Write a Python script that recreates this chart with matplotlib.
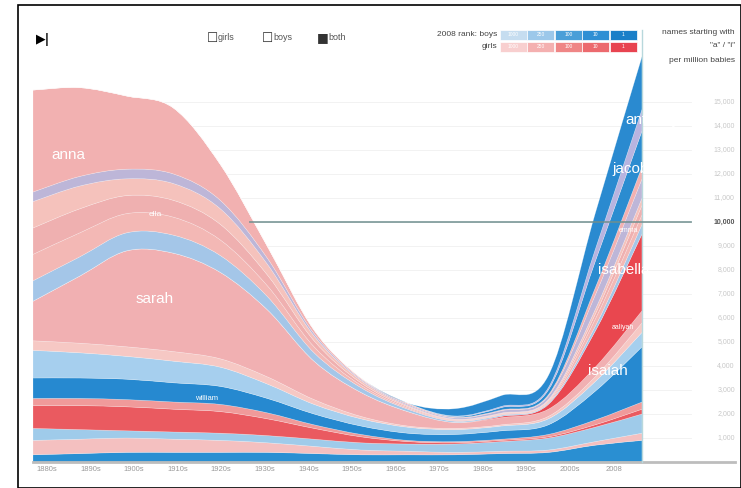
import matplotlib.pyplot as plt
import numpy as np
from matplotlib.path import Path
from matplotlib.patches import PathPatch, Rectangle

plt.rcParams['font.family'] = ['Liberation Sans', 'DejaVu Sans']

# dekady na osi x
decades = ['1880s', '1890s', '1900s', '1910s', '1920s', '1930s', '1940s',
           '1950s', '1960s', '1970s', '1980s', '1990s', '2000s', '2008']

# warstwy od dolu do gory, wartosci: na milion urodzen
b1 =       [300, 350, 400, 400, 400, 400, 350, 300, 300, 300, 350, 400, 700, 900]
g1 =       [600, 600, 600, 550, 500, 400, 300, 200, 150, 100, 100, 100, 150, 300]
b2 =       [500, 400, 300, 300, 300, 300, 300, 300, 300, 350, 400, 500, 600, 800]
g2 =       [950, 1000, 1000, 950, 900, 700, 450, 250, 100, 50, 50, 50, 100, 200]
g3 =       [300, 300, 300, 300, 300, 250, 150, 100, 50, 50, 50, 100, 200, 300]
isaiah =   [850, 850, 850, 800, 750, 600, 450, 350, 300, 300, 350, 400, 1200, 2300]
b3 =       [1150, 1050, 950, 900, 800, 600, 400, 300, 250, 200, 200, 250, 400, 600]
g4 =       [400, 400, 400, 400, 350, 300, 200, 100, 50, 50, 50, 100, 200, 400]
sarah =    [1650, 2800, 4000, 4100, 3600, 2800, 1600, 1000, 600, 250, 300, 300, 400, 500]
isabella = [0, 0, 0, 0, 0, 0, 0, 0, 0, 0, 50, 200, 1500, 3200]
b4 =       [850, 800, 750, 750, 700, 550, 350, 200, 100, 50, 50, 50, 200, 400]
g5 =       [1100, 1000, 800, 750, 650, 450, 250, 100, 50, 30, 30, 50, 300, 400]
g6 =       [1100, 1000, 750, 700, 650, 450, 250, 100, 50, 30, 30, 50, 200, 400]
g7 =       [1100, 950, 700, 700, 650, 450, 200, 100, 50, 30, 30, 50, 200, 300]
b5 =       [400, 400, 400, 400, 350, 250, 100, 50, 50, 50, 100, 150, 600, 800]
anna =     [4250, 3700, 3050, 2750, 1500, 500, 150, 50, 50, 30, 30, 50, 300, 500]
jacob =    [0, 0, 0, 0, 0, 0, 0, 0, 0, 30, 100, 200, 1100, 1500]
b6 =       [0, 0, 0, 0, 0, 0, 0, 0, 0, 20, 50, 100, 500, 900]
anthony =  [0, 0, 0, 0, 0, 0, 0, 0, 0, 300, 450, 500, 1500, 2200]

layers = [b1, g1, b2, g2, g3, isaiah, b3, g4, sarah, isabella,
          b4, g5, g6, g7, b5, anna, jacob, b6, anthony]
colors = ['#2a8fd2', '#f4c0c0', '#9fcbea', '#ea5a60', '#f09a9a', '#2689d0',
          '#a6cfee', '#f6c8c4', '#f1b0b2', '#e9474f', '#a4c6e8', '#f3b8b5',
          '#efb0b0', '#f5c2bc', '#bdb6d8', '#f2b1b1', '#2b8cd0', '#b8b4e0',
          '#2a8ad0']

y_ticks = list(range(1000, 16000, 1000))

boys_ramp = ['#c6ddf0', '#9cc8ea', '#4a9fd8', '#2e8fd4', '#1a7fc8']
girls_ramp = ['#f8cfcf', '#f4b0b0', '#ef8686', '#ec6a6e', '#e84450']
ramp_labels = ['1000', '250', '100', '10', '1']

W, H = 741, 488
fig = plt.figure(figsize=(W / 100, H / 100), dpi=100)
ax = fig.add_axes([33 / W, 26 / H, 702 / W, 408 / H])
ax.set_xlim(0, 702 / 46.85)
ax.set_ylim(0, 17000)
ax.axis('off')


def smooth(xs, ys):
    # Catmull-Rom -> krzywe Beziera
    pts = list(zip(xs, ys))
    verts = []
    n = len(pts)
    for i in range(n - 1):
        p0 = pts[max(i - 1, 0)]
        p1 = pts[i]
        p2 = pts[i + 1]
        p3 = pts[min(i + 2, n - 1)]
        c1 = (p1[0] + (p2[0] - p0[0]) / 6, p1[1] + (p2[1] - p0[1]) / 6)
        c2 = (p2[0] - (p3[0] - p1[0]) / 6, p2[1] - (p3[1] - p1[1]) / 6)
        verts += [c1, c2, p2]
    return verts


x = np.arange(len(decades))
bottom = np.zeros(len(decades))

# siatka
for t in y_ticks:
    ax.plot([0, 14.05], [t, t], color='#f0f0f0', lw=0.6, zorder=0)

for vals, col in zip(layers, colors):
    top = bottom + np.array(vals, dtype=float)
    up = smooth(x, top)
    lo = smooth(x[::-1], bottom[::-1])
    verts = [(x[0], top[0])] + up + [(x[-1], bottom[-1])] + lo + [(x[0], top[0])]
    codes = ([Path.MOVETO] + [Path.CURVE4] * len(up) + [Path.LINETO]
             + [Path.CURVE4] * len(lo) + [Path.CLOSEPOLY])
    ax.add_patch(PathPatch(Path(verts, codes), facecolor=col,
                           edgecolor=(1, 1, 1, 0.35), lw=0.4, zorder=2))
    bottom = top

# linia bazowa i pionowa kreska na koncu danych
ax.plot([0, 14.98], [0, 0], color='#bdbdbd', lw=2, zorder=3, clip_on=False)
ax.plot([13, 13], [0, 18000], color='#b8d8dc', lw=1, zorder=3, clip_on=False)

# linia 10,000
ax.plot([4.63, 14.05], [10000, 10000], color='#6f8f8f', lw=1.3, alpha=0.85, zorder=4)

# etykiety osi y po prawej
for t in y_ticks:
    bold = t == 10000
    ax.text(14.98, t, f'{t:,}', ha='right', va='center', fontsize=5,
            color='#555555' if bold else '#c8c8c8',
            fontweight='bold' if bold else 'normal')

# etykiety dekad
for i, d in enumerate(decades):
    ax.text(0.3 + 0.93 * i, -170, d, ha='center', va='top', fontsize=5.5,
            color='#9a9a9a')

# imiona na warstwach
clip = Rectangle((0, 0), 13, 17000, transform=ax.transData, visible=False)
ax.add_patch(clip)
names = [('anna', 0.75, 12800, 11, 'center'), ('sarah', 2.6, 6800, 11, 'center'),
         ('ella', 2.6, 10300, 6, 'center'), ('william', 3.7, 2650, 5.5, 'center'),
         ('isabella', 12.06, 8000, 11, 'left'), ('isaiah', 11.85, 3800, 11, 'left'),
         ('jacob', 12.36, 12200, 11, 'left'), ('anthony', 12.64, 14250, 11, 'left'),
         ('emma', 12.5, 9650, 5, 'left'), ('aaliyah', 12.35, 5600, 5, 'left')]
for name, nx, ny, fs, ha in names:
    t = ax.text(nx, ny, name, ha=ha, va='center', fontsize=fs, color='white',
                zorder=5)
    t.set_clip_path(clip)


def fx(px):
    return px / W


def fy(py):
    return 1 - py / H


# ramka
fig.add_artist(Rectangle((fx(18), fy(488)), fx(741) - fx(18), fy(5) - fy(488),
                         fill=False, edgecolor='black', lw=1.2,
                         transform=fig.transFigure))

# przycisk i pola wyboru
fig.text(fx(36), fy(40), '▶|', fontsize=9, fontweight='bold', va='center',
         family=['DejaVu Sans'])
for lbl, px, mark in [('girls', 207, '☐'), ('boys', 262, '☐'), ('both', 317, '■')]:
    fig.text(fx(px), fy(38), mark, fontsize=9, va='center', color='#333333',
             family=['DejaVu Sans'])
    fig.text(fx(px + 11), fy(38), lbl, fontsize=6.5, va='center', color='#555555')

# legenda rang
fig.text(fx(497), fy(35), '2008 rank: boys', ha='right', va='center',
         fontsize=6, color='#444444')
fig.text(fx(497), fy(47), 'girls', ha='right', va='center', fontsize=6,
         color='#444444')
for k in range(5):
    for row, ramp in [(30, boys_ramp), (42, girls_ramp)]:
        fig.add_artist(Rectangle((fx(500 + 27.4 * k), fy(row + 10)), 27 / W, 10 / H,
                                 facecolor=ramp[k], edgecolor='white', lw=0.5,
                                 transform=fig.transFigure))
        fig.text(fx(513.5 + 27.4 * k), fy(row + 5), ramp_labels[k], ha='center',
                 va='center', fontsize=3.5, color='white')

fig.text(fx(735), fy(33), 'names starting with', ha='right', va='center',
         fontsize=6, color='#444444')
fig.text(fx(735), fy(46), '"a" / "i"', ha='right', va='center',
         fontsize=6, color='#444444')
fig.text(fx(735), fy(60), 'per million babies', ha='right', va='center',
         fontsize=6, color='#444444')

plt.savefig('out.png', dpi=100)
